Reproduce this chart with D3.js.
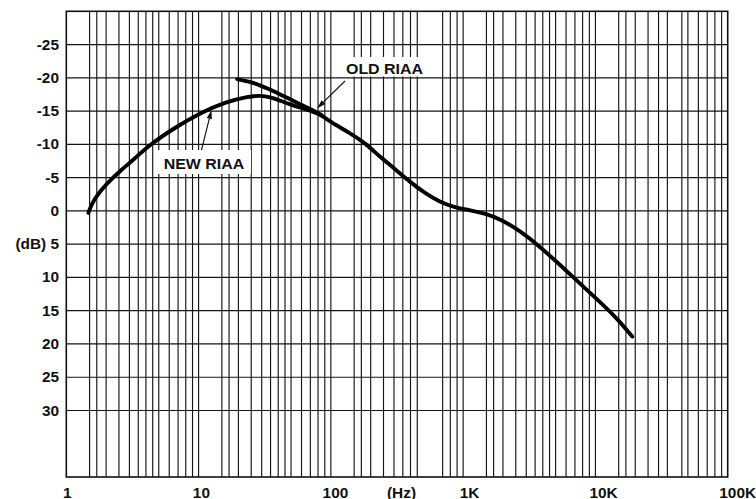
<!DOCTYPE html>
<html>
<head>
<meta charset="utf-8">
<script src="https://cdn.jsdelivr.net/npm/d3@7"></script>
<style>
  html, body { margin: 0; padding: 0; background: #fff; }
  svg { display: block; }
  text { font-family: "Liberation Sans", Arial, Helvetica, sans-serif; font-weight: bold; fill: #111; }
</style>
</head>
<body>
<script>
// RIAA equalisation, old and new (IEC) versions, in dB against frequency.
const newRiaaHz = [1.47, 1.56, 1.8, 2.2, 2.55, 3.2, 4.3, 6.8, 10, 16, 24, 29, 35, 41, 50, 60, 71, 85,
  100, 140, 186, 235, 306, 396, 512, 668, 867, 1130, 1470, 1900, 2690, 3800, 5380, 7600, 10700, 14500, 19000];
const newRiaaDb = [0.3, -1.15, -3.0, -4.8, -6.0, -7.65, -10.0, -12.65, -14.6, -16.4, -17.2, -17.35, -17.1, -16.6, -15.95, -15.45, -15.05, -14.4,
  -13.3, -11.7, -10.05, -8.1, -6.3, -4.35, -2.7, -1.3, -0.5, -0.1, 0.4, 1.2, 3.0, 5.35, 8.1, 10.85, 13.6, 16.1, 18.9];

const oldRiaaHz = [19.6, 24.5, 29, 34.6, 41.4, 49.5, 59.2, 70, 85];
const oldRiaaDb = [-19.8, -19.4, -18.9, -18.25, -17.5, -16.75, -16.0, -15.3, -14.4];

// axis labels
const dbTicks = [-25, -20, -15, -10, -5, 0, 5, 10, 15, 20, 25, 30];
const dbTickLabels = ["-25", "-20", "-15", "-10", "-5", "0", "(dB) 5", "10", "15", "20", "25", "30"];
const hzTicks = [1, 10, 100, 1000, 10000, 100000];
const hzTickLabels = ["1", "10", "100", "1K", "10K", "100K"];
const hzUnitLabel = "(Hz)";

// vertical rulings of the log paper (per-decade multiples)
const gridMultiples = {
  1:     [1.5, 1.7, 2, 2.5, 3, 3.5, 4, 4.5, 5, 6, 7, 8, 9],
  10:    [1, 1.5, 1.7, 2, 2.5, 3, 3.5, 4, 4.5, 5, 6, 7, 8, 9],
  100:   [1, 1.5, 1.7, 2, 2.5, 3, 3.5, 4, 4.5, 7, 8, 9],
  1000:  [1, 1.5, 1.7, 2, 2.5, 3, 3.5, 4, 4.5, 5, 6, 7, 8, 9],
  10000: [1, 1.5, 1.7, 2, 2.5, 3, 3.5, 4.5, 5, 6, 7, 8, 9]
};

const W = 756, H = 499;
const plotL = 66.3, plotR = 727.7, plotT = 11.3, plotB = 477;

const x = d3.scaleLog().domain([1, 100000]).range([plotL, plotR]);
const y = d3.scaleLinear().domain([-30, 40]).range([plotT, plotB]);

const svg = d3.select("body").append("svg").attr("width", W).attr("height", H);
svg.append("rect").attr("width", W).attr("height", H).attr("fill", "#fff");

// grid
const gridHz = [];
Object.keys(gridMultiples).forEach(d => gridMultiples[d].forEach(m => gridHz.push(+d * m)));

const grid = svg.append("g").attr("stroke", "#151515").attr("stroke-width", 1.15).attr("fill", "none");
grid.selectAll("line.v").data(gridHz).join("line").attr("class", "v")
  .attr("x1", d => x(d)).attr("x2", d => x(d)).attr("y1", plotT).attr("y2", plotB);
grid.selectAll("line.h").data(dbTicks).join("line").attr("class", "h")
  .attr("x1", plotL).attr("x2", plotR).attr("y1", d => y(d)).attr("y2", d => y(d));

svg.append("rect").attr("x", plotL).attr("y", plotT).attr("width", plotR - plotL).attr("height", plotB - plotT)
  .attr("fill", "none").attr("stroke", "#111").attr("stroke-width", 1.6);

// label plates
svg.append("rect").attr("x", 157).attr("y", 150).attr("width", 94).attr("height", 24).attr("fill", "#fff");
svg.append("rect").attr("x", 338).attr("y", 57).attr("width", 92).attr("height", 19.5).attr("fill", "#fff");

// curves
const line = d3.line().x(d => x(d[0])).y(d => y(d[1])).curve(d3.curveBasis);
const curves = svg.append("g").attr("fill", "none").attr("stroke", "#000").attr("stroke-width", 3.9)
  .attr("stroke-linecap", "round").attr("stroke-linejoin", "round");
curves.append("path").attr("d", line(d3.zip(oldRiaaHz, oldRiaaDb)));
curves.append("path").attr("d", line(d3.zip(newRiaaHz, newRiaaDb)));

// arrows
function arrow(x1, y1, x2, y2) {
  const a = Math.atan2(y2 - y1, x2 - x1), len = 9, hw = 2.6;
  const bx = x2 - len * Math.cos(a), by = y2 - len * Math.sin(a);
  const nx = -Math.sin(a) * hw, ny = Math.cos(a) * hw;
  svg.append("line").attr("x1", x1).attr("y1", y1).attr("x2", bx).attr("y2", by)
    .attr("stroke", "#111").attr("stroke-width", 1.1);
  svg.append("path").attr("d", `M${x2},${y2}L${bx + nx},${by + ny}L${bx - nx},${by - ny}Z`).attr("fill", "#111");
}
arrow(201.5, 150, 211.5, 110);
arrow(345, 81, 317, 108.5);

function label(txt, cx, cy, size, anchor) {
  svg.append("text").attr("transform", `translate(${cx},${cy}) scale(1.1,1)`)
    .attr("text-anchor", anchor).attr("font-size", size).attr("dy", "0.36em").text(txt);
}
label("NEW RIAA", 204, 164, 14.5, "middle");
label("OLD RIAA", 384.5, 68.5, 14.5, "middle");

// y axis labels
dbTicks.forEach((d, i) => label(dbTickLabels[i], 59, y(d), 14, "end"));
// x axis labels
hzTicks.forEach((d, i) => label(hzTickLabels[i], x(d) + 1 + 1.8 * i, 492.5, 14, "middle"));
label(hzUnitLabel, 401.5, 492.5, 14, "middle");
</script>
</body>
</html>
